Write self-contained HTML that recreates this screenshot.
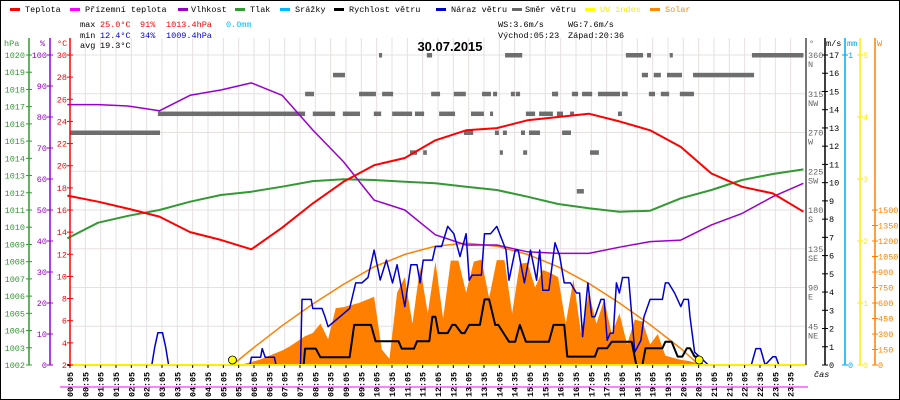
<!DOCTYPE html>
<html><head><meta charset="utf-8"><style>
html,body{margin:0;padding:0;background:#fff}
svg{display:block}
text{font-family:"Liberation Mono",monospace;font-size:8.5px}
</style></head><body>
<svg id="chart" width="900" height="400" viewBox="0 0 900 400" xmlns="http://www.w3.org/2000/svg">
<rect x="0.5" y="0.5" width="899" height="399" fill="#fff" stroke="#000"/>
<g id="grid"></g>
<g id="series"></g>
<g id="axes"></g>
<g>
 <g><rect x="10" y="8" width="10" height="3" fill="#f00"/><text x="25" y="12">Teplota</text></g>
 <g><rect x="70" y="8" width="10" height="3" fill="#f0f"/><text x="85" y="12">Přízemní teplota</text></g>
 <g><rect x="178" y="8" width="10" height="3" fill="#90c"/><text x="191" y="12">Vlhkost</text></g>
 <g><rect x="235" y="8" width="10" height="3" fill="#393"/><text x="250" y="12">Tlak</text></g>
 <g><rect x="280" y="8" width="10" height="3" fill="#0bf"/><text x="295" y="12">Srážky</text></g>
 <g><rect x="334" y="8" width="10" height="3" fill="#000"/><text x="349" y="12">Rychlost větru</text></g>
 <g><rect x="436" y="8" width="10" height="3" fill="#00c"/><text x="451" y="12">Náraz větru</text></g>
 <g><rect x="512" y="8" width="10" height="3" fill="#666"/><text x="525" y="12">Směr větru</text></g>
 <g><rect x="585" y="8" width="10" height="3" fill="#ff0"/><text x="600" y="12" fill="#ee0">UV index</text></g>
 <g><rect x="650" y="8" width="10" height="3" fill="#f80"/><text x="665" y="12" fill="#f80">Solar</text></g>
</g>
<g>
 <text x="80" y="27">max</text><text x="100" y="27" fill="#f00">25.0°C</text><text x="140" y="27" fill="#f00">91%</text><text x="166" y="27" fill="#f00">1013.4hPa</text><text x="226" y="27" fill="#0bf">0.0mm</text>
 <text x="80" y="38">min</text><text x="100" y="38" fill="#00c">12.4°C</text><text x="140" y="38" fill="#00c">34%</text><text x="166" y="38" fill="#00c">1009.4hPa</text>
 <text x="80" y="48">avg</text><text x="100" y="48">19.3°C</text>
 <text x="498" y="27">WS:3.6m/s</text><text x="568" y="27">WG:7.6m/s</text>
 <text x="498" y="38">Východ:05:23</text><text x="568" y="38">Západ:20:36</text>
</g>
<text x="450" y="51" text-anchor="middle" style="font-family:'Liberation Sans',sans-serif;font-size:13px;font-weight:bold">30.07.2015</text>
</svg>
<script>
// ---- data ----
const hours = [0,1,2,3,4,5,6,7,8,9,10,11,12,13,14,15,16,17,18,19,20,21,22,23,24];
const tempVals = [17.3,16.75,16.1,15.4,14.0,13.3,12.45,14.4,16.6,18.55,20.05,20.7,22.3,23.2,23.4,24.1,24.4,24.7,24.0,23.2,21.7,19.3,18.1,17.5,15.85];
const humVals = [84,84,83.5,82,87,88.7,91,87,75.8,65.6,53.2,50,42,38.7,38.7,36.5,36,36,38,39.8,40.3,45.2,48.9,54.3,58.6];
const presVals = [1009.35,1010.26,1010.67,1011.0,1011.48,1011.87,1012.06,1012.35,1012.68,1012.78,1012.74,1012.64,1012.55,1012.35,1012.16,1011.77,1011.35,1011.1,1010.9,1010.96,1011.68,1012.16,1012.74,1013.09,1013.36];
const windTimes = [0,7.7,7.75,8.1,8.25,9.2,9.35,9.9,10.05,10.8,10.9,11.3,11.4,11.8,11.9,12.0,12.1,12.4,12.55,12.65,12.85,12.95,13.1,13.45,13.6,13.75,13.95,14.05,14.4,14.6,14.75,14.95,15.7,15.85,16.2,16.3,17.2,17.3,17.6,17.75,18.4,18.55,18.75,18.85,19.4,19.5,19.7,19.9,20.05,20.2,20.3,20.45,20.6,20.7,24];
const windVals = [0,0,0.9,0.9,0.42,0.42,2.2,2.2,1.3,1.3,0.9,0.9,1.3,1.3,2.65,2.65,1.75,1.75,2.2,2.2,1.75,1.75,2.2,2.2,3.6,3.6,2.2,2.2,1.28,1.28,2.2,1.28,1.28,2.2,2.2,0.46,0.46,0.92,0.92,1.28,1.28,0,0,0.92,0.92,1.28,1.28,0.46,0.46,0.92,0.92,0.46,0.46,0,0];
const gustTimes = [0,2.75,2.85,2.95,3.1,3.2,3.3,5.95,6.0,6.3,6.35,6.45,6.5,6.75,6.8,7.6,7.65,7.95,8.0,8.3,8.4,8.5,9.2,9.4,9.6,9.8,10.0,10.2,10.4,10.6,10.75,11.0,11.2,11.4,11.5,11.6,11.9,12.0,12.2,12.4,12.6,12.8,13.0,13.1,13.2,13.5,13.6,13.8,14.0,14.3,14.4,14.6,14.7,14.9,15.1,15.3,15.4,15.5,15.7,15.9,16.05,16.2,16.4,16.6,16.7,16.8,16.97,17.1,17.2,17.4,17.5,17.6,17.7,17.8,17.9,18.0,18.1,18.3,18.5,18.7,18.8,19.0,19.4,19.5,19.6,19.8,20.0,20.1,20.25,20.3,20.45,20.9,22.3,22.45,22.6,22.75,23.0,23.1,23.2,23.3,24];
const gustVals = [0,0,1,1.77,1.77,1,0,0,0.42,0.42,0.9,0.42,0.42,0.42,0,0,3.6,3.6,3.1,3.1,2.65,2.1,3.1,4.5,4.5,4.8,6.3,4.66,5.75,4.5,5.5,3.2,5.5,5.5,4.5,5.75,5.75,6.5,6.5,7.6,7.2,5.95,7.2,4.65,4.93,4.93,7.2,7.2,7.6,6.3,4.65,6.3,6.3,4.5,6.3,4.65,6.3,4.1,4.1,6.7,6.0,4.5,4.5,3.95,3.95,1.55,4.5,2.65,2.65,3.6,3.6,1.35,1.75,1.75,4.5,3.95,4.8,4.8,0.7,1.35,2.65,3.6,3.6,4.5,4.5,3.95,3.2,3.6,3.6,2.65,0.7,0,0,0.9,0.9,0,0.45,0.45,0,0,0];
const solarTimes = [5.5,5.75,6,6.25,6.5,6.75,7,7.25,7.5,7.75,8,8.25,8.5,8.75,9,9.25,9.5,9.75,10,10.25,10.5,10.75,11,11.25,11.5,11.75,12,12.25,12.5,12.75,13,13.25,13.5,13.75,14,14.25,14.5,14.75,15,15.25,15.5,15.75,16,16.25,16.5,16.75,17,17.25,17.5,17.75,18,18.25,18.5,18.75,19,19.25,19.5,19.75,20,20.25,20.5,20.75];
const solarVals = [0,10,30,50,80,110,140,180,230,280,310,400,250,550,560,580,600,630,660,150,60,700,850,400,950,500,1000,450,1010,1010,700,1000,1020,650,1015,1015,500,980,990,750,920,890,850,400,830,300,700,400,630,300,500,200,440,420,200,300,90,70,50,40,20,0];
const theoTimes = [5.38,6,7,8,9,10,11,12,13,14,15,16,17,18,19,20,20.6];
const theoVals = [0,150,380,590,780,950,1070,1150,1180,1150,1070,950,790,600,390,160,0];
const dirStart = [0.08,2.95,7.75,8.0,10.16,11.72,14.27,8.66,9.51,10.26,11.86,12.6,13.52,13.88,14.46,14.62,15.8,8.98,9.99,10.59,11.33,12.12,13.16,13.78,14.95,15.38,15.96,16.39,17.95,12.93,13.94,14.2,14.79,15.05,16.13,11.17,11.6,14.1,14.86,17.04,16.61,18.21,18.9,19.64,22.32,18.73,19.12,19.55,20.4,15.9,16.45,16.78,17.3,18.08,18.96,19.35,19.97];
const dirEnd   = [3.02,7.75,8.04,8.73,10.26,11.89,14.83,9.05,10.06,10.62,12.15,12.99,13.81,14.01,14.59,14.76,15.99,9.54,10.23,11.24,11.63,12.64,13.58,13.88,15.25,15.83,16.16,16.52,18.08,13.23,14.07,14.33,14.92,15.41,16.42,11.4,11.72,14.2,14.99,17.33,16.84,18.77,19.03,19.74,24.0,18.93,19.35,20.04,22.39,16.0,16.65,17.11,18.02,18.27,19.16,19.62,20.43];
const dirDeg   = [270,292,315,292,360,360,360,337,315,315,315,315,315,315,315,315,315,292,292,292,292,292,292,292,292,292,292,292,292,270,270,270,270,270,270,247,247,247,247,247,202,360,360,360,360,337,337,337,337,315,315,315,315,315,315,315,315];
const sunTimes = [5.38,20.6];
const hpaTicks = [1020,1019,1018,1017,1016,1015,1014,1013,1012,1011,1010,1009,1008,1007,1006,1005,1004,1003,1002];
const humTicks = [100,90,80,70,60,50,40,30,20,10,0];
const tempTicks = [30,28,26,24,22,20,18,16,14,12,10,8,6,4,2];
const degTicks = [360,315,270,225,180,135,90,45];
const degNames = ['N','NW','W','SW','S','SE','E','NE'];
const msTicks = [17,16,15,14,13,12,11,10,9,8,7,6,5,4,3,2,1,0];
const uvTicks = [5,4,3,2,1,0];
const wTicks = [1500,1350,1200,1050,900,750,600,450,300,150,0];

// ---- scales ----
const TOP=55, BOT=365, L=70, R=806;
const X = h => 70 + (h*60-5)*0.51111;
const yT = t => BOT - (t-2)*(BOT-TOP)/28;
const yH = v => BOT - v*(BOT-TOP)/100;
const yP = p => BOT - (p-1002)*(BOT-TOP)/18;
const yMS = v => BOT - v*(BOT-TOP)/17;
const yD = d => BOT - d*(BOT-TOP)/360;
const yUV = u => BOT - u*(BOT-TOP)/5;
const yW = w => BOT - w*(BOT-210)/1500;
const NS='http://www.w3.org/2000/svg';
function mk(tag, parent, attrs){const e=document.createElementNS(NS,tag);for(const k in attrs)e.setAttribute(k,attrs[k]);parent.appendChild(e);return e;}
const grid=document.getElementById('grid'), ser=document.getElementById('series'), ax=document.getElementById('axes');

for(let i=0;i<48;i++){const x=70+i*15.333;
 const g=mk('line',grid,{x1:x,x2:x,y1:38,y2:BOT,stroke:'#e6e0e0','stroke-width':1});
 
 }
degTicks.forEach(d=>{const g=mk('line',grid,{x1:L,x2:R,y1:yD(d),y2:yD(d),stroke:'#e6e0e0','stroke-width':1});
 
 });

dirStart.forEach((s,i)=>{const r=mk('rect',ser,{x:X(s),y:yD(dirDeg[i])-2,width:Math.max(2,X(dirEnd[i])-X(s)),height:4.5,fill:'#6e6e6e'});
 
 });

{let d=`M${X(solarTimes[0])},${BOT}`;solarTimes.forEach((t,i)=>{d+=` L${X(t)},${yW(solarVals[i])}`;});d+=` L${X(solarTimes[solarTimes.length-1])},${BOT}Z`;
 const p=mk('path',ser,{d,fill:'#ff8000'});
 
 }
function line(ts,vs,fy,color,w,name){let d='';ts.forEach((t,i)=>{d+=(i?' L':'M')+X(t).toFixed(1)+','+fy(vs[i]).toFixed(1);});
 const p=mk('path',ser,{d,fill:'none',stroke:color,'stroke-width':w,'stroke-linejoin':'round'});
 
 }
line(theoTimes,theoVals,yW,'#ff8000',1.5,'solar-theoretical-line');
line(hours,presVals,yP,'#339933',2,'pressure-line');
line(hours,humVals,yH,'#9900cc',1.5,'humidity-line');
line(hours,tempVals,yT,'#ff0000',2,'temperature-line');
line(gustTimes,gustVals,yMS,'#0000cc',1.5,'gust-line');
line(windTimes,windVals,yMS,'#000000',2,'wind-speed-line');
{const b=mk('line',ser,{x1:L,x2:R,y1:BOT,y2:BOT,stroke:'#ffee00','stroke-width':2});
 
 }
sunTimes.forEach(t=>{const c=mk('circle',ser,{cx:X(t),cy:BOT-5,r:4,fill:'#ffff00',stroke:'#000','stroke-width':0.8});
 
 });

function vaxis(x,color,ticks,fy,labelX,anchor,name,w){
 const a=mk('line',ax,{x1:x,x2:x,y1:38,y2:BOT,stroke:color,'stroke-width':w||1.5});
 
 
 ticks.forEach(v=>{const y=fy(v);mk('line',ax,{x1:x-3,x2:x+3,y1:y,y2:y,stroke:color,'stroke-width':1});
  const t=mk('text',ax,{x:labelX,y:y+3,fill:color,'text-anchor':anchor});t.textContent=v;
  
  });}
vaxis(29,'#339933',hpaTicks,yP,25,'end','pressure-axis');
vaxis(50,'#9900cc',humTicks,yH,47,'end','humidity-axis');
vaxis(70,'#ff0000',tempTicks,yT,67,'end','temperature-axis');
vaxis(825,'#000',msTicks,yMS,829,'start','wind-speed-axis');
vaxis(845,'#00aaee',[1,0],v=>yMS(v*17),848,'start','rain-axis');
vaxis(860,'#ffee00',uvTicks,yUV,863,'start','uv-axis');
vaxis(875,'#ff8000',wTicks,yW,878,'start','solar-axis');
{const a=mk('line',ax,{x1:806,x2:806,y1:38,y2:BOT,stroke:'#777','stroke-width':2});
 
 
 degTicks.forEach((d,i)=>{const y=yD(d);const t=mk('text',ax,{x:808,y:y+3,fill:'#666'});t.textContent=d;
  
  
  const n=mk('text',ax,{x:808,y:y+12,fill:'#666'});n.textContent=degNames[i];
  
  });}
[['hPa',4,'#339933'],['%',40,'#9900cc'],['°C',57,'#ff0000'],['°',809,'#666'],['m/s',826,'#000'],['mm',847,'#00aaee'],['W',877,'#ff8000']].forEach(([s,x,c])=>{
 const t=mk('text',ax,{x,y:46,fill:c});t.textContent=s;
 
 });
{const t=mk('text',ax,{x:814,y:377,'font-style':'italic'});t.textContent='čas';
 
 }
for(let i=0;i<48;i++){const x=70+i*15.333;const m=5+30*i;
 mk('line',ax,{x1:x,x2:x,y1:BOT,y2:BOT+3,stroke:'#000'});
 const lab=String(Math.floor(m/60)).padStart(2,'0')+':'+String(m%60).padStart(2,'0');
 const t=mk('text',ax,{x:0,y:0,transform:`translate(${x+3},397) rotate(-90)`,textLength:25,lengthAdjust:'spacingAndGlyphs','font-weight':'bold'});t.textContent=lab;
 
 }
{const m=mk('line',ax,{x1:60,x2:808,y1:387,y2:387,stroke:'#ff00ff','stroke-width':1});
 
 }
</script>
</body></html>
